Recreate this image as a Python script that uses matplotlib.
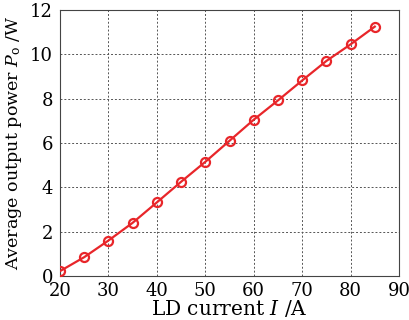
import numpy as np
import matplotlib
matplotlib.use("Agg")
import matplotlib.pyplot as plt

# datos
corriente = [20, 25, 30, 35, 40, 45, 50, 55, 60, 65, 70, 75, 80, 85]
potencia = [0.22, 0.85, 1.6, 2.4, 3.32, 4.25, 5.15, 6.1, 7.05, 7.92, 8.82, 9.7, 10.45, 11.25]
xticks = [20, 30, 40, 50, 60, 70, 80, 90]
yticks = [0, 2, 4, 6, 8, 10, 12]

plt.rcParams['font.family'] = ['DejaVu Serif']
plt.rcParams['mathtext.fontset'] = 'dejavuserif'

fig = plt.figure(figsize=(4.09, 3.2), dpi=100)
ax = fig.add_axes([60/409, 1 - 276/320, 339/409, 266/320])

ax.plot(corriente, potencia, color='#e8262a', lw=1.6, marker='o',
        markersize=6.5, markerfacecolor='none', markeredgewidth=1.6, zorder=3)

ax.set_xlim(20, 90)
ax.set_ylim(0, 12)
ax.set_xticks(xticks)
ax.set_yticks(yticks)
ax.grid(True, linestyle=(0, (2, 2)), color='#555555', linewidth=0.7)
ax.tick_params(direction='in', length=0, labelsize=13)
ax.tick_params(axis='x', pad=4)
ax.tick_params(axis='y', pad=5)
for s in ax.spines.values():
    s.set_color('#444444')
    s.set_linewidth(0.8)

ax.set_xlabel(r'LD current $I$ /A', fontsize=14.5, labelpad=-1)
ax.set_ylabel(r'Average output power $P_{\rm o}$ /W', fontsize=12.6, labelpad=4)

fig.savefig('out.png', dpi=100)
